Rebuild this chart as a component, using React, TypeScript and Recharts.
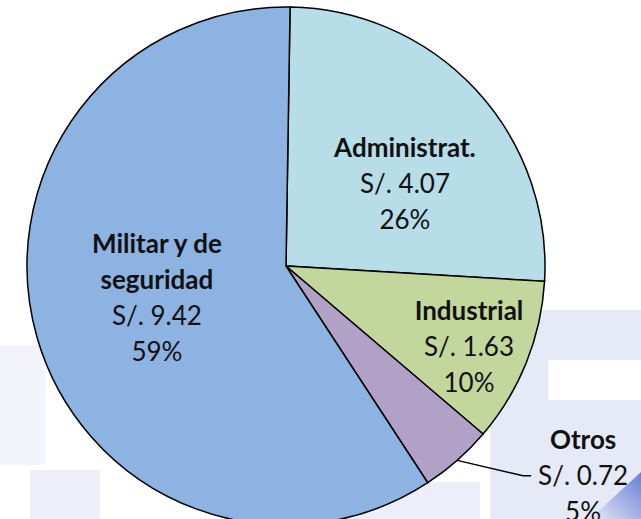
import React from 'react';
import { PieChart, Pie, Cell } from 'recharts';

// Sectores (sentido horario desde arriba)
const categories = ['Administrat.', 'Industrial', 'Otros', 'Militar y de seguridad'];
const amounts = [4.07, 1.63, 0.72, 9.42];
const colors = ['#B7DDE8', '#C3D69B', '#B2A1C7', '#8DB3E2'];

// Líneas de título de cada etiqueta
const titleLines = [['Administrat.'], ['Industrial'], ['Otros'], ['Militar y de', 'seguridad']];

// Posición de etiquetas en coordenadas polares (ángulo en grados, radio relativo)
const labelPlacement = [
    { angle: 34.9, r: 0.56 },
    { angle: -23.6, r: 0.771 },
    { angle: -35.1, r: 1.402 },
    { angle: 193.7, r: 0.513 },
];

const data = categories.map((name, i) => ({ name, value: amounts[i] }));

const RAD = Math.PI / 180;
const LINE_H = 36;
const FONT = 'Lato, "Open Sans", sans-serif';

const renderLabel = (props: any) => {
    const { cx, cy, outerRadius, midAngle, index, value, percent } = props;
    const place = labelPlacement[index];
    const x = cx + outerRadius * place.r * Math.cos(place.angle * RAD);
    const y = cy - outerRadius * place.r * Math.sin(place.angle * RAD);

    const lines = [
        ...titleLines[index].map((t) => ({ text: t, bold: true })),
        { text: `S/. ${value.toFixed(2)}`, bold: false },
        { text: `${Math.round(percent * 100)}%`, bold: false },
    ];
    const top = y - ((lines.length - 1) * LINE_H) / 2;

    // línea guía para la etiqueta exterior
    let leader = null;
    if (place.r > 1) {
        const sx = cx + outerRadius * Math.cos(-midAngle * RAD);
        const sy = cy + outerRadius * Math.sin(-midAngle * RAD);
        const ex = x - 52;
        leader = (
            <polyline
                points={`${sx},${sy} ${ex - 8},${y + 1} ${ex},${y + 1}`}
                fill="none"
                stroke="#000"
                strokeWidth={1.5}
            />
        );
    }

    return (
        <g>
            {leader}
            {lines.map((l, i) => (
                <text
                    key={i}
                    x={x}
                    y={top + i * LINE_H}
                    textAnchor="middle"
                    dominantBaseline="central"
                    fontFamily={FONT}
                    fontSize={26}
                    fontWeight={l.bold ? 700 : 400}
                    fill="#111"
                >
                    {l.text}
                </text>
            ))}
        </g>
    );
};

// Marca de agua tenue de fondo
const Watermark = () => (
    <svg width={641} height={519} style={{ position: 'absolute', left: 0, top: 0 }}>
        <defs>
            <linearGradient id="wmCorner" x1="0" y1="1" x2="1" y2="0">
                <stop offset="0%" stopColor="#E6E9F6" />
                <stop offset="100%" stopColor="#6A7ED6" />
            </linearGradient>
        </defs>
        <rect x={0} y={345} width={45} height={120} fill="#F2F3FB" />
        <rect x={30} y={470} width={70} height={49} fill="#EEEFF9" />
        <rect x={330} y={482} width={150} height={37} fill="#EDEEF9" />
        <rect x={490} y={310} width={151} height={209} fill="#E6E9F6" />
        <rect x={548} y={360} width={93} height={40} fill="#FFFFFF" />
        <polygon points="590,519 641,472 641,519" fill="url(#wmCorner)" />
    </svg>
);

export default function App() {
    return (
        <div
            style={{
                position: 'absolute',
                left: 0,
                top: 0,
                width: 641,
                height: 519,
                overflow: 'hidden',
                background: '#fff',
            }}
        >
            <Watermark />
            <div style={{ position: 'absolute', left: 0, top: 0 }}>
                <PieChart width={641} height={519} margin={{ top: 0, right: 0, bottom: 0, left: 0 }}>
                    <Pie
                        data={data}
                        dataKey="value"
                        nameKey="name"
                        cx={286}
                        cy={266}
                        outerRadius={259}
                        startAngle={89.1}
                        endAngle={-270.9}
                        stroke="#000"
                        strokeWidth={1.5}
                        label={renderLabel}
                        labelLine={false}
                        isAnimationActive={false}
                    >
                        {data.map((d, i) => (
                            <Cell key={d.name} fill={colors[i]} />
                        ))}
                    </Pie>
                </PieChart>
            </div>
        </div>
    );
}
